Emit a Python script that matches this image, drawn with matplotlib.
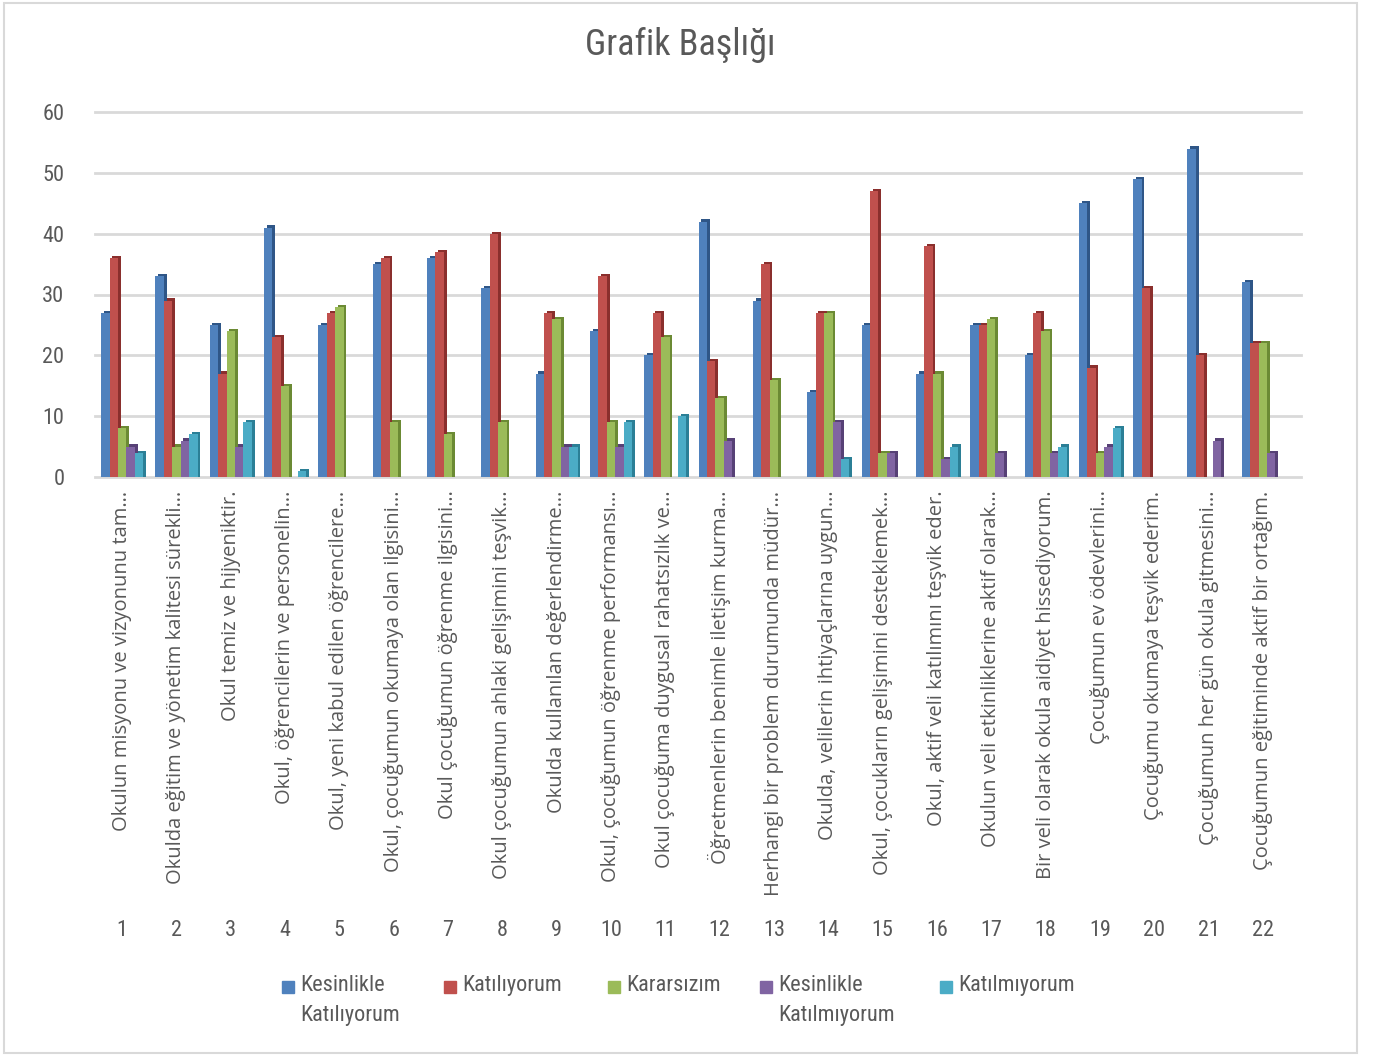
import numpy as np
import matplotlib
matplotlib.use("Agg")
import matplotlib.pyplot as plt
from matplotlib.patches import Rectangle
from matplotlib import font_manager
from matplotlib.transforms import blended_transform_factory

# veriler
sorular = [
    "Okulun misyonu ve vizyonunu tam…",
    "Okulda eğitim ve yönetim kalitesi sürekli…",
    "Okul temiz ve hijyeniktir.",
    "Okul, öğrencilerin ve personelin…",
    "Okul, yeni kabul edilen öğrencilere…",
    "Okul, çocuğumun okumaya olan ilgisini…",
    "Okul çocuğumun öğrenme ilgisini…",
    "Okul çocuğumun ahlaki gelişimini teşvik…",
    "Okulda kullanılan değerlendirme…",
    "Okul, çocuğumun öğrenme performansı…",
    "Okul çocuğuma duygusal rahatsızlık ve…",
    "Öğretmenlerin benimle iletişim kurma…",
    "Herhangi bir problem durumunda müdür…",
    "Okulda, velilerin ihtiyaçlarına uygun…",
    "Okul, çocukların gelişimini desteklemek…",
    "Okul, aktif veli katılımını teşvik eder.",
    "Okulun veli etkinliklerine aktif olarak…",
    "Bir veli olarak okula aidiyet hissediyorum.",
    "Çocuğumun ev ödevlerini…",
    "Çocuğumu okumaya teşvik ederim.",
    "Çocuğumun her gün okula gitmesini…",
    "Çocuğumun eğitiminde aktif bir ortağım.",
]
numaralar = [str(i) for i in range(1, 23)]

seriler = ["Kesinlikle\nKatılıyorum", "Katılıyorum", "Kararsızım",
           "Kesinlikle\nKatılmıyorum", "Katılmıyorum"]

kesinlikle_katiliyorum = [27, 33, 25, 41, 25, 35, 36, 31, 17, 24, 20, 42, 29, 14, 25, 17, 25, 20, 45, 49, 54, 32]
katiliyorum = [36, 29, 17, 23, 27, 36, 37, 40, 27, 33, 27, 19, 35, 27, 47, 38, 25, 27, 18, 31, 20, 22]
kararsizim = [8, 5, 24, 15, 28, 9, 7, 9, 26, 9, 23, 13, 16, 27, 4, 17, 26, 24, 4, 0, 0, 22]
kesinlikle_katilmiyorum = [5, 6, 5, 0, 0, 0, 0, 0, 5, 5, 0, 6, 0, 9, 4, 3, 4, 4, 5, 0, 6, 4]
katilmiyorum = [4, 7, 9, 1, 0, 0, 0, 0, 5, 9, 10, 0, 0, 3, 0, 5, 0, 5, 8, 0, 0, 0]

renkler = ["#4f81bd", "#c0504d", "#9bbb59", "#8064a2", "#4bacc6"]
koyu = ["#2f5687", "#8a2f2d", "#6b8a34", "#574176", "#2b7f96"]


def font_sec(adaylar):
    mevcut = {f.name for f in font_manager.fontManager.ttflist}
    for a in adaylar:
        if a in mevcut:
            return a
    return "DejaVu Sans"


dar = font_sec(["Liberation Sans Narrow", "Roboto Condensed", "Open Sans"])
genis = font_sec(["Open Sans", "Noto Sans"])
gri = "#595959"

fig = plt.figure(figsize=(13.79, 10.55), dpi=100)
ax = fig.add_axes([95 / 1379, 1 - 477 / 1055, 1195 / 1379, (477 - 112) / 1055])

veri = [kesinlikle_katiliyorum, katiliyorum, kararsizim, kesinlikle_katilmiyorum, katilmiyorum]
x = np.arange(1, 23)
w = 0.155
for i, seri in enumerate(veri):
    v = np.array(seri, dtype=float)
    konum = x + (i - 2) * w
    # 3B görünüm için koyu yan yüz
    golge = np.where(v > 0, v + 0.35, 0)
    ax.bar(konum + 0.05, golge, width=w, color=koyu[i], zorder=2)
    ax.bar(konum, v, width=w, color=renkler[i], zorder=3)

ax.set_xlim(0.5, 22.5)
ax.set_ylim(0, 60)
ax.set_yticks(range(0, 61, 10))
# ızgara çizgileri biraz daha sağa uzansın
for yv in range(0, 61, 10):
    ax.plot([0.5, 22.7], [yv, yv], color="#d9d9d9", lw=2, zorder=0, clip_on=False)
for s in ax.spines.values():
    s.set_visible(False)
ax.tick_params(axis="y", length=0, pad=22, labelsize=16, labelcolor=gri)
for t in ax.get_yticklabels():
    t.set_fontfamily(dar)
ax.set_xticks([])

# kategori etiketleri
for xi, s in zip(x, sorular):
    ax.text(xi, -2.2, s, rotation=90, ha="center", va="top", fontsize=14.5,
            color=gri, family=genis)
alt_y = 1 - 930 / 1055
tr = blended_transform_factory(ax.transData, fig.transFigure)
for xi, n in zip(x, numaralar):
    ax.text(xi, alt_y, n, transform=tr, ha="center", va="center", fontsize=16,
            color=gri, family=dar)

fig.text(680 / 1379, 1 - 45 / 1055, "Grafik Başlığı", ha="center", va="center",
         fontsize=26, color=gri, family=dar)

# lejant
lejant_x = [282, 444, 608, 760, 940]
for lx, r, s in zip(lejant_x, renkler, seriler):
    fig.patches.append(Rectangle((lx / 1379, 1 - 993 / 1055), 12 / 1379, 12 / 1055,
                                 transform=fig.transFigure, color=r))
    fig.text((lx + 18) / 1379, 1 - 975 / 1055, s, ha="left", va="top", fontsize=16,
             color=gri, family=dar, linespacing=1.55)

# çerçeve
fig.patches.append(Rectangle((4 / 1379, 2 / 1055), 1353 / 1379, 1050 / 1055,
                             transform=fig.transFigure, fill=False, ec="#d9d9d9", lw=1.5))

fig.savefig("out.png", dpi=100)
